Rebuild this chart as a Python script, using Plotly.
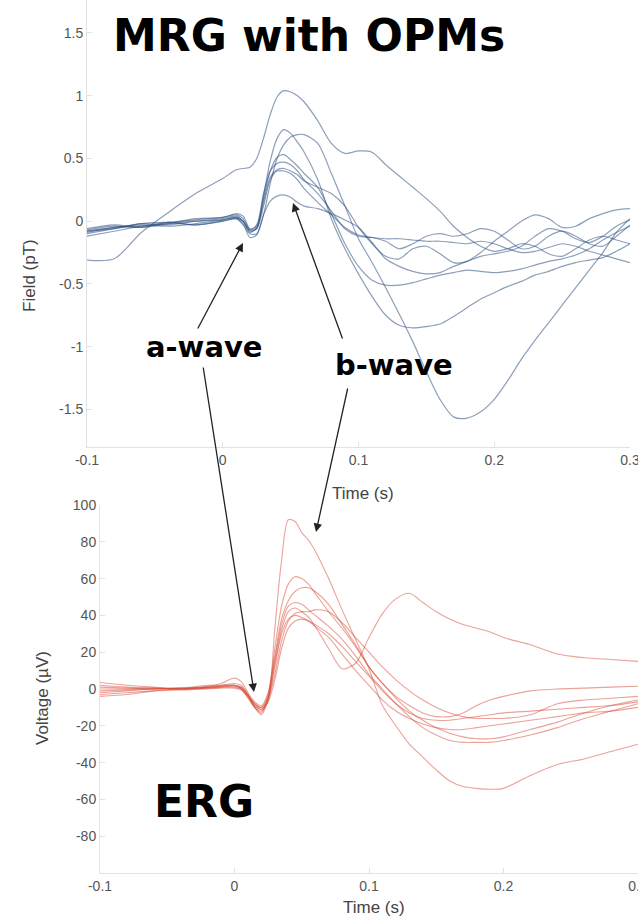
import plotly.graph_objects as go

W, H = 638, 918

# ---------------- MRG (top) data ----------------
t_mrg = [-0.1, -0.08, -0.06, -0.04, -0.02, 0.0, 0.01, 0.015, 0.02, 0.025, 0.03, 0.035, 0.04, 0.045,
         0.05, 0.055, 0.06, 0.07, 0.08, 0.09, 0.1, 0.11, 0.12, 0.13, 0.14, 0.15, 0.16, 0.17, 0.18,
         0.19, 0.2, 0.21, 0.22, 0.23, 0.24, 0.25, 0.26, 0.27, 0.28, 0.29, 0.3]

mrg_a = [-0.31, -0.30, -0.09, 0.07, 0.22, 0.34, 0.41, 0.42, 0.43, 0.50, 0.66, 0.85, 0.99, 1.04, 1.03,
         1.0, 0.95, 0.80, 0.62, 0.54, 0.56, 0.55, 0.45, 0.36, 0.27, 0.18, 0.08, -0.04, -0.13, -0.20,
         -0.24, -0.22, -0.18, -0.20, -0.26, -0.28, -0.22, -0.15, -0.12, -0.15, -0.18]
mrg_b = [-0.08, -0.05, -0.04, -0.02, 0.0, 0.01, 0.03, 0.0, -0.09, -0.05, 0.2, 0.48, 0.66, 0.73, 0.70,
         0.63, 0.55, 0.33, 0.02, -0.22, -0.42, -0.60, -0.75, -0.83, -0.85, -0.84, -0.82, -0.76, -0.69,
         -0.62, -0.57, -0.52, -0.48, -0.43, -0.40, -0.36, -0.33, -0.31, -0.29, -0.24, -0.18]
mrg_c = [-0.06, -0.03, -0.05, -0.01, -0.03, 0.0, 0.02, -0.03, -0.10, -0.10, 0.05, 0.30, 0.50, 0.61,
         0.67, 0.69, 0.69, 0.62, 0.38, 0.12, -0.14, -0.33, -0.53, -0.74, -0.96, -1.2, -1.42, -1.56,
         -1.57, -1.52, -1.42, -1.27, -1.1, -0.95, -0.81, -0.67, -0.53, -0.39, -0.25, -0.09, 0.02]
mrg_d = [-0.10, -0.06, -0.02, -0.03, 0.0, 0.02, 0.04, 0.0, -0.08, -0.06, 0.18, 0.40, 0.51, 0.53, 0.49,
         0.44, 0.38, 0.27, 0.06, -0.18, -0.36, -0.47, -0.51, -0.51, -0.49, -0.46, -0.43, -0.41, -0.39,
         -0.40, -0.41, -0.40, -0.38, -0.35, -0.32, -0.30, -0.27, -0.22, -0.15, -0.09, -0.04]
mrg_e = [-0.12, -0.08, -0.04, -0.01, 0.01, 0.03, 0.05, 0.02, -0.07, -0.03, 0.22, 0.40, 0.46, 0.47, 0.45,
         0.40, 0.33, 0.22, 0.08, -0.06, -0.12, -0.13, -0.16, -0.22, -0.18, -0.12, -0.10, -0.12, -0.10,
         -0.06, -0.08, -0.15, -0.22, -0.20, -0.12, -0.08, -0.12, -0.18, -0.20, -0.12, -0.03]
mrg_f = [-0.07, -0.04, -0.05, -0.02, 0.02, 0.03, 0.06, 0.04, -0.06, -0.04, 0.15, 0.35, 0.41, 0.42, 0.40,
         0.37, 0.32, 0.27, 0.22, 0.12, -0.05, -0.18, -0.28, -0.30, -0.22, -0.20, -0.26, -0.33, -0.32,
         -0.25, -0.16, -0.08, 0.0, 0.05, 0.02, -0.05, -0.04, 0.02, 0.06, 0.09, 0.10]
mrg_g = [-0.09, -0.05, -0.03, -0.04, -0.02, 0.01, 0.03, 0.0, -0.07, -0.06, 0.12, 0.33, 0.40, 0.40, 0.38,
         0.33, 0.26, 0.15, 0.05, -0.05, -0.11, -0.13, -0.14, -0.14, -0.15, -0.16, -0.16, -0.17, -0.18,
         -0.16, -0.18, -0.22, -0.25, -0.24, -0.21, -0.18, -0.20, -0.24, -0.27, -0.30, -0.33]
mrg_h = [-0.08, -0.06, -0.02, -0.01, -0.03, 0.0, 0.02, -0.02, -0.13, -0.11, 0.05, 0.16, 0.20, 0.21, 0.19,
         0.15, 0.12, 0.10, 0.06, 0.01, -0.05, -0.17, -0.30, -0.36, -0.40, -0.42, -0.41, -0.36, -0.32,
         -0.28, -0.26, -0.24, -0.20, -0.12, -0.06, -0.08, -0.14, -0.17, -0.12, -0.04, 0.01]

mrg_series = [mrg_a, mrg_b, mrg_c, mrg_d, mrg_e, mrg_f, mrg_g, mrg_h]

# ---------------- ERG (bottom) data ----------------
t_erg = [-0.1, -0.08, -0.06, -0.04, -0.02, -0.01, 0.0, 0.005, 0.01, 0.015, 0.02, 0.025, 0.03, 0.035,
         0.04, 0.045, 0.05, 0.055, 0.06, 0.07, 0.08, 0.09, 0.1, 0.11, 0.12, 0.13, 0.14, 0.15, 0.16,
         0.17, 0.18, 0.19, 0.2, 0.22, 0.24, 0.26, 0.28, 0.3]

erg_1 = [-1, -0.5, 0, 0.5, 1, 1.5, 2, 0, -5, -10, -12, -6, 33, 70, 92, 91, 85, 81, 75, 60, 43, 27, 11,
         -9, -20, -30, -37, -44, -50, -53, -54, -54.5, -54, -47, -41, -38, -34, -30]
erg_2 = [2, 1, 0.5, 0, 1, 2, 3, 2, -3, -8, -10, -3, 22, 45, 57, 61, 60, 57, 52, 42, 33, 23, 12, 3, -5,
         -12, -17, -21, -24, -26, -27, -27, -26, -22, -18, -13, -9, -6]
erg_3 = [3.5, 2, 1, 0.5, 1.5, 3, 6, 4, -2, -7, -9, -2, 18, 38, 48, 53, 55, 55, 53, 46, 35, 24, 12, 3,
         -4, -9, -13, -15, -15, -13, -9, -6, -4, -1, 0, 0.5, 1, 1.5]
erg_4 = [-4, -3, -1, 0, 0.5, 1, 1, 0, -4, -10, -13, -4, 16, 35, 45, 47, 46, 43, 40, 34, 27, 18, 8, 0,
         -8, -15, -21, -25, -28, -29, -29, -29, -28, -25, -21, -16, -12, -8]
erg_5 = [0, 0, 0.5, 0, 0.5, 1, 1.5, 0.5, -4, -9, -11, -5, 14, 32, 42, 44, 42, 39, 34, 22, 11, 14, 28,
         41, 49, 52, 47, 42, 38, 35, 33, 31, 28, 24, 19, 17, 16, 15]
erg_6 = [-2, -1, 0, 0.5, 2, 2, 2, 1, -3, -10, -14, -6, 8, 26, 37, 41, 42, 42, 43, 42, 36, 28, 20, 12, 5,
         -1, -6, -10, -13, -15, -16, -16, -16, -14, -8, -6, -5, -4]
erg_7 = [1, 0.5, 0, 0, 1, 1.5, 2, 1, -3, -8, -10, -5, 12, 30, 38, 40, 39, 37, 35, 30, 23, 15, 7, -1, -8,
         -13, -16, -17, -17, -16, -15, -14, -13, -12, -11, -10, -9, -7]
erg_8 = [-3, -2, -1, -0.5, 0, 0.5, 0.5, -0.5, -4, -9, -11, -7, 5, 22, 33, 37, 38, 37, 34, 28, 19, 10, 2,
         -6, -12, -16, -19, -21, -22, -22, -21, -20, -19, -17, -15, -13, -12, -10]

erg_series = [erg_1, erg_2, erg_3, erg_4, erg_5, erg_6, erg_7, erg_8]

# tick labels
mrg_yticks = [-1.5, -1, -0.5, 0, 0.5, 1, 1.5]
mrg_yticktext = ["-1.5", "-1", "-0.5", "0", "0.5", "1", "1.5"]
erg_yticks = [-80, -60, -40, -20, 0, 20, 40, 60, 80, 100]
erg_yticktext = ["-80", "-60", "-40", "-20", "0", "20", "40", "60", "80", "100"]
xticks = [-0.1, 0, 0.1, 0.2, 0.3]
xticktext = ["-0.1", "0", "0.1", "0.2", "0.3"]

BLUE = "rgba(45,80,130,0.55)"
RED = "rgba(215,70,50,0.5)"


def px(x):
    return x / W


def py(y):
    return 1 - y / H


fig = go.Figure()
for s in mrg_series:
    fig.add_trace(go.Scatter(x=t_mrg, y=s, mode="lines", xaxis="x", yaxis="y",
                             line=dict(color=BLUE, width=1.2, shape="spline", smoothing=0.8),
                             showlegend=False, hoverinfo="skip"))
for s in erg_series:
    fig.add_trace(go.Scatter(x=t_erg, y=s, mode="lines", xaxis="x2", yaxis="y2",
                             line=dict(color=RED, width=1.1, shape="spline", smoothing=0.8),
                             showlegend=False, hoverinfo="skip"))

tickfont = dict(family="Liberation Sans, Arial, sans-serif", size=14, color="#555")
axcommon = dict(showgrid=False, zeroline=False, showline=True, linecolor="#e2e2e2", linewidth=1,
                ticks="inside", ticklen=5, tickcolor="#e2e2e2", tickfont=tickfont,
                automargin=False, ticklabeloverflow="allow")

fig.update_layout(
    width=W, height=H, autosize=False,
    margin=dict(l=0, r=0, t=0, b=0, pad=0, autoexpand=False),
    paper_bgcolor="white", plot_bgcolor="white",
    xaxis=dict(domain=[px(87), px(630)], range=[-0.1, 0.3], anchor="y",
               tickvals=xticks, ticktext=xticktext, **axcommon),
    yaxis=dict(domain=[py(447), 1], range=[-1.80, 1.763], anchor="x",
               tickvals=mrg_yticks, ticktext=mrg_yticktext, **axcommon),
    xaxis2=dict(domain=[px(100), 1], range=[-0.1, 0.3], anchor="y2",
                tickvals=xticks, ticktext=xticktext, **axcommon),
    yaxis2=dict(domain=[py(873), py(505)], range=[-100, 100], anchor="x2",
                tickvals=erg_yticks, ticktext=erg_yticktext, **axcommon),
)

titlefont = dict(family="Liberation Sans, Arial, sans-serif", size=17, color="#444")
bigfont = dict(family="DejaVu Sans", size=44, color="black")
labfont = dict(family="DejaVu Sans", size=29, color="black")

annots = [
    dict(text="Field (pT)", x=px(29), y=py(276), textangle=-90, font=titlefont),
    dict(text="Time (s)", x=px(363), y=py(493), font=titlefont),
    dict(text="Voltage (µV)", x=px(42), y=py(698), textangle=-90, font=titlefont),
    dict(text="Time (s)", x=px(374), y=py(907), font=titlefont),
    dict(text="<b>MRG with OPMs</b>", x=px(309), y=py(35), font=bigfont),
    dict(text="<b>ERG</b>", x=px(204), y=py(801), font=bigfont),
    dict(text="<b>a-wave</b>", x=px(204), y=py(347), font=labfont),
    dict(text="<b>b-wave</b>", x=px(394), y=py(365), font=labfont),
]
for a in annots:
    fig.add_annotation(xref="paper", yref="paper", showarrow=False,
                       xanchor="center", yanchor="middle", **a)

# arrows: (tail_x, tail_y, head_x, head_y) in pixels
arrows = [
    (197, 330, 243, 243),
    (203, 366, 254, 692),
    (343, 340, 293, 203),
    (348, 387, 316, 532),
]
for tx, ty, hx, hy in arrows:
    fig.add_annotation(xref="paper", yref="paper", x=px(hx), y=py(hy),
                       ax=tx - hx, ay=ty - hy, axref="pixel", ayref="pixel",
                       text="", showarrow=True, arrowhead=2, arrowsize=1.3,
                       arrowwidth=1.3, arrowcolor="#222")

fig.write_html("out.html", config={"displayModeBar": False},
               post_script="document.body.style.margin='0px';")
